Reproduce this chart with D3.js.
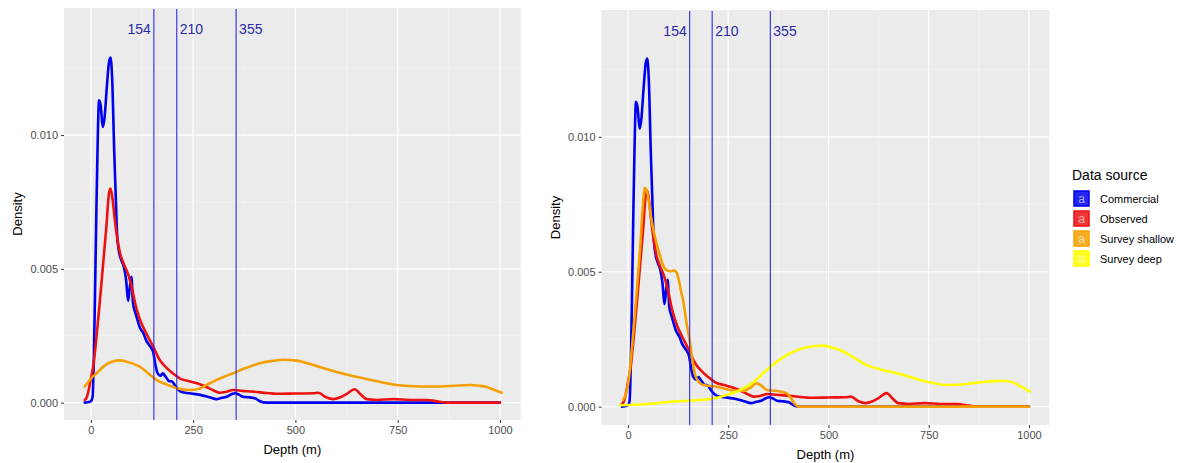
<!DOCTYPE html>
<html><head><meta charset="utf-8">
<script src="https://cdn.jsdelivr.net/npm/d3@7"></script>
<style>body{margin:0;background:#fff;} svg{display:block;font-family:"Liberation Sans",Arial,sans-serif;}</style>
</head><body>
<svg id="chart" width="1189" height="463"></svg>
<script>
// ---- data ----
const sources = ["Commercial", "Observed", "Survey shallow", "Survey deep"];
const colors = ["#0000ee", "#ee1111", "#f5a000", "#ffff00"];
const cutDepths = [154, 210, 355];
const xTicks = [0, 250, 500, 750, 1000];
const yTicks = [0, 0.005, 0.010];

const commercial = [[-15,0],[-5,0.00002],[0,0.00005],[4,0.0002],[7,0.0015],[10,0.004],[13,0.0068],[16,0.0093],[20,0.0113],[24,0.0111],[29,0.0103],[33,0.0106],[39,0.0118],[44,0.0127],[48,0.0129],[52,0.0121],[57,0.0094],[61,0.0076],[64,0.0063],[68,0.0057],[75,0.0053],[80,0.0051],[86,0.0046],[91,0.0038],[95,0.0043],[99,0.0047],[103,0.0037],[110,0.0033],[120,0.0028],[128,0.0026],[136,0.0023],[145,0.0021],[152,0.0019],[158,0.0014],[163,0.0011],[170,0.001],[176,0.0011],[181,0.001],[186,0.0009],[191,0.0008],[197,0.0008],[205,0.00066],[213,0.0005],[222,0.0004],[240,0.00035],[267,0.00029],[290,0.0002],[307,0.00013],[320,0.00018],[332,0.00022],[345,0.00032],[352,0.00035],[362,0.0003],[372,0.00022],[385,0.0002],[395,0.00018],[401,0.00016],[410,0.00008],[421,0.00001],[440,0],[600,0],[800,0],[1000,0]];

const observed = [[-15,0.0001],[-10,0.0002],[-5,0.0005],[0,0.0009],[6,0.0014],[14,0.0025],[22,0.0038],[30,0.0052],[38,0.0066],[44,0.0078],[48,0.0080],[53,0.0076],[58,0.0069],[64,0.0062],[71,0.0056],[80,0.0052],[91,0.0048],[100,0.0043],[110,0.0036],[120,0.0031],[135,0.0026],[152,0.0021],[168,0.0016],[185,0.0013],[200,0.0011],[218,0.0009],[240,0.0008],[259,0.00072],[280,0.0006],[300,0.00045],[315,0.00037],[330,0.0004],[348,0.00047],[370,0.00044],[397,0.00041],[430,0.00036],[454,0.00033],[500,0.00034],[543,0.00035],[556,0.00037],[575,0.0002],[592,0.00013],[610,0.0002],[625,0.00032],[645,0.0005],[660,0.0003],[674,0.00013],[700,0.0001],[740,0.00013],[780,0.0001],[821,0.0001],[850,0.00004],[870,0],[1000,0]];

const shallowLeft = [[-15,0.0006],[0,0.0009],[14,0.0011],[35,0.0014],[55,0.00155],[70,0.00158],[90,0.00152],[120,0.00134],[140,0.0011],[160,0.00085],[185,0.00068],[210,0.00054],[242,0.00047],[265,0.00052],[283,0.00066],[315,0.0009],[348,0.0011],[380,0.0013],[413,0.00147],[440,0.00155],[470,0.0016],[503,0.00157],[540,0.00142],[584,0.00122],[625,0.00105],[666,0.00091],[705,0.00078],[747,0.00066],[790,0.00061],[829,0.0006],[880,0.00062],[927,0.00066],[950,0.00063],[968,0.00058],[985,0.00048],[1004,0.00037]];

const shallowRight = [[-12,0.00025],[0,0.0008],[13,0.0027],[22,0.0043],[30,0.0058],[37,0.0074],[42,0.0081],[47,0.0080],[53,0.0075],[59,0.0069],[67,0.0063],[76,0.0058],[86,0.0053],[96,0.00506],[105,0.00502],[113,0.00504],[120,0.005],[125,0.0048],[132,0.0043],[138,0.0039],[146,0.0031],[155,0.00235],[162,0.0016],[167,0.0012],[178,0.0009],[188,0.0008],[221,0.00074],[254,0.00062],[288,0.00058],[305,0.0007],[321,0.00087],[335,0.00075],[346,0.00062],[379,0.00056],[395,0.0005],[404,0.00037],[415,0.00012],[424,0],[600,0],[800,0],[1000,0]];

const deepRight = [[-20,0.00005],[50,0.0001],[113,0.00019],[160,0.00023],[196,0.00027],[225,0.00034],[246,0.00043],[270,0.00055],[296,0.00074],[320,0.001],[346,0.00136],[370,0.00165],[396,0.00191],[420,0.00208],[446,0.0022],[470,0.00225],[488,0.00226],[510,0.00218],[529,0.0021],[560,0.00185],[595,0.00154],[630,0.00138],[670,0.00124],[700,0.00112],[728,0.00099],[760,0.00088],[795,0.0008],[830,0.00082],[870,0.00089],[900,0.00093],[936,0.00096],[960,0.0009],[977,0.00077],[1002,0.00056]];

const panels = [
  {x0:64, x1:520.7, y0:8, y1:420, ydom:[-0.00065,0.01475], series:[commercial, observed, shallowLeft, null]},
  {x0:601.6, x1:1049.3, y0:10, y1:425, ydom:[-0.00068,0.0147], series:[commercial, observed, shallowRight, deepRight]}
];

const svg = d3.select("#chart");
const xdom = [-65.75, 1050.75];

panels.forEach((p, pi) => {
  const x = d3.scaleLinear().domain(xdom).range([p.x0, p.x1]);
  const y = d3.scaleLinear().domain(p.ydom).range([p.y1, p.y0]);
  const g = svg.append("g");
  g.append("rect").attr("x", p.x0).attr("y", p.y0).attr("width", p.x1 - p.x0).attr("height", p.y1 - p.y0).attr("fill", "#ebebeb");
  // minor grid
  [125, 375, 625, 875].forEach(v => g.append("line").attr("x1", x(v)).attr("x2", x(v)).attr("y1", p.y0).attr("y2", p.y1).attr("stroke", "#f7f7f7").attr("stroke-width", 0.6));
  [0.0025, 0.0075, 0.0125].forEach(v => g.append("line").attr("x1", p.x0).attr("x2", p.x1).attr("y1", y(v)).attr("y2", y(v)).attr("stroke", "#f7f7f7").attr("stroke-width", 0.6));
  xTicks.forEach(v => g.append("line").attr("x1", x(v)).attr("x2", x(v)).attr("y1", p.y0).attr("y2", p.y1).attr("stroke", "#fff").attr("stroke-width", 1.2));
  yTicks.forEach(v => g.append("line").attr("x1", p.x0).attr("x2", p.x1).attr("y1", y(v)).attr("y2", y(v)).attr("stroke", "#fff").attr("stroke-width", 1.2));

  // axes
  const xa = g.append("g").attr("transform", `translate(0,${p.y1})`)
    .call(d3.axisBottom(x).tickValues(xTicks).tickFormat(d3.format("d")).tickSize(3).tickPadding(3));
  const ya = g.append("g").attr("transform", `translate(${p.x0},0)`)
    .call(d3.axisLeft(y).tickValues(yTicks).tickFormat(d3.format(".3f")).tickSize(3).tickPadding(3));
  [xa, ya].forEach(a => {
    a.select(".domain").remove();
    a.selectAll(".tick line").attr("stroke", "#333");
    a.selectAll(".tick text").attr("fill", "#4d4d4d").style("font-size", "11px").style("font-family", "Liberation Sans, Arial, sans-serif");
  });

  // curves
  const line = d3.line().x(d => x(d[0])).y(d => y(d[1])).curve(d3.curveMonotoneX);
  p.series.forEach((s, i) => {
    if (!s) return;
    g.append("path").attr("d", line(s)).attr("fill", "none").attr("stroke", colors[i])
      .attr("stroke-width", 2.6).attr("stroke-linejoin", "round").attr("stroke-linecap", "round");
  });

  // vertical cut lines
  cutDepths.forEach((c, ci) => {
    g.append("line").attr("x1", x(c)).attr("x2", x(c)).attr("y1", p.y0 + 1).attr("y2", p.y1)
      .attr("stroke", "#1a1ae0").attr("stroke-width", 1);
    g.append("text").attr("x", ci === 0 ? x(c) - 3 : x(c) + 3).attr("y", p.y0 + 26)
      .attr("text-anchor", ci === 0 ? "end" : "start").attr("fill", "#2a2aa8")
      .style("font-size", "14px").text(c);
  });

  // axis titles
  svg.append("text").attr("x", (p.x0 + p.x1) / 2).attr("y", p.y1 + 34).attr("text-anchor", "middle")
    .style("font-size", "13px").attr("fill", "#000").text("Depth (m)");
  svg.append("text").attr("transform", `translate(${p.x0 - 42},${(p.y0 + p.y1) / 2}) rotate(-90)`)
    .attr("text-anchor", "middle").style("font-size", "13px").attr("fill", "#000").text("Density");
});

// legend
const lg = svg.append("g");
lg.append("text").attr("x", 1072).attr("y", 180).style("font-size", "14px").attr("fill", "#000").text("Data source");
sources.forEach((s, i) => {
  const cy = 199 + i * 20;
  lg.append("rect").attr("x", 1074).attr("y", cy - 8).attr("width", 15).attr("height", 15)
    .attr("fill", colors[i]).attr("fill-opacity", 0.85).attr("stroke", colors[i]).attr("stroke-width", 1.5);
  lg.append("text").attr("x", 1081.5).attr("y", cy + 4).attr("text-anchor", "middle")
    .style("font-size", "12px").attr("fill", "#fff").attr("fill-opacity", 0.6).text("a");
  lg.append("text").attr("x", 1100).attr("y", cy + 4).style("font-size", "11px").attr("fill", "#000").text(s);
});
</script>
</body></html>
